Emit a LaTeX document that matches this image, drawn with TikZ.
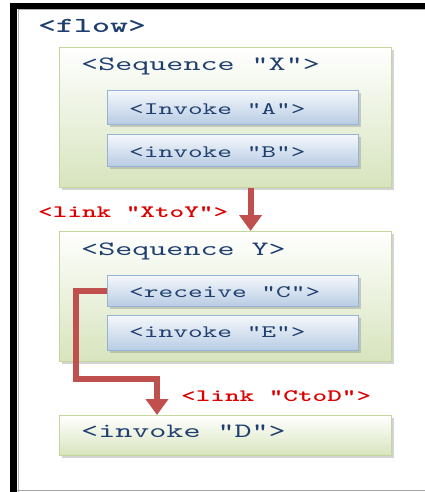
\documentclass[tikz,border=0pt]{standalone}
\usepackage{fontspec}
\newfontfamily\codefont{lmmono10-regular.otf}[FakeStretch=1.6,BoldFont=lmmonolt10-bold.otf]
\usetikzlibrary{arrows.meta}
\usetikzlibrary{shadows}
\definecolor{codeblue}{RGB}{31,63,111}
\definecolor{linkred}{RGB}{220,0,0}
\definecolor{arrowred}{RGB}{192,80,77}
\definecolor{seqline}{RGB}{195,214,155}
\definecolor{seqfill}{RGB}{215,228,189}
\definecolor{actline}{RGB}{149,179,215}
\definecolor{actfill}{RGB}{184,204,228}

\begin{document}
\begin{tikzpicture}[x=1pt,y=-1pt,
  boxshadow/.style={drop shadow={shadow xshift=2pt,shadow yshift=-2pt,opacity=0.35}},
  seqbox/.style={draw=seqline,line width=1.2pt,top color=white,bottom color=seqfill,
    boxshadow,anchor=north west,minimum width=332pt,inner sep=0pt},
  actbox/.style={draw=actline,line width=1.2pt,top color=actfill!15,bottom color=actfill,
    boxshadow,anchor=north west,minimum width=251pt,minimum height=33pt,inner sep=0pt},
  tag/.style={anchor=base west,inner sep=0pt,text=codeblue,
    font=\codefont\fontsize{20.3}{20}\selectfont},
  acttag/.style={tag,font=\codefont\fontsize{17.5}{18}\selectfont},
  flowtag/.style={tag,font=\codefont\bfseries\fontsize{21.4}{21}\selectfont},
  linktag/.style={anchor=base west,inner sep=0pt,text=linkred,
    font=\codefont\bfseries\fontsize{17.4}{18}\selectfont},
  linkarrow/.style={draw=arrowred,line width=6pt,-{Triangle[width=22pt,length=16pt]}}]
 	\useasboundingbox (0,0) rectangle (425,492);
 	% frame
 	\fill[black] (10,3) rectangle (425,9);
 	\fill[black] (10,3) rectangle (17,492);
 	\draw[gray!60,line width=1pt] (18,492) -- (18,10) -- (425,10);
 	\draw[gray!70,line width=1.5pt] (17,490.5) -- (425,490.5);
 	\node[flowtag] (flow) at (38,33) {<flow>};
 	% sequence X
 	\node[seqbox,minimum height=140pt] (seqX) at (59,47) {};
 	\node[tag] (seqXtag) at (81,71) {<Sequence "X">};
 	\node[actbox,minimum height=34pt] (invA) at (107,90) {};
 	\node[acttag] (invAtag) at (129,114) {<Invoke "A">};
 	\node[actbox,minimum height=32pt] (invB) at (107,134) {};
 	\node[acttag] (invBtag) at (129,157) {<invoke "B">};
 	% sequence Y
 	\node[seqbox,minimum height=130pt] (seqY) at (59,231) {};
 	\node[tag] (seqYtag) at (81,255) {<Sequence Y>};
 	\node[actbox,minimum height=31pt] (recvC) at (107,275) {};
 	\node[acttag] (recvCtag) at (129,297) {<receive "C">};
 	\node[actbox,minimum height=35pt] (invE) at (107,315) {};
 	\node[acttag] (invEtag) at (129,337) {<invoke "E">};
 	% invoke D
 	\node[seqbox,minimum height=40pt] (invD) at (59,415) {};
 	\node[tag] (invDtag) at (81,437) {<invoke "D">};
 	% links
 	\draw[linkarrow] ([xshift=25pt]seqX.south) -- ([xshift=25pt]seqY.north);
 	\node[linktag] (linkXY) at (38,217) {<link "XtoY">};
 	\coordinate (turn) at (76,379);
 	\draw[linkarrow] (recvC.west) -| (turn) -| ([xshift=98pt]invD.north west);
 	\node[linktag] (linkCD) at (181,401) {<link "CtoD">};
\end{tikzpicture}
\end{document}
